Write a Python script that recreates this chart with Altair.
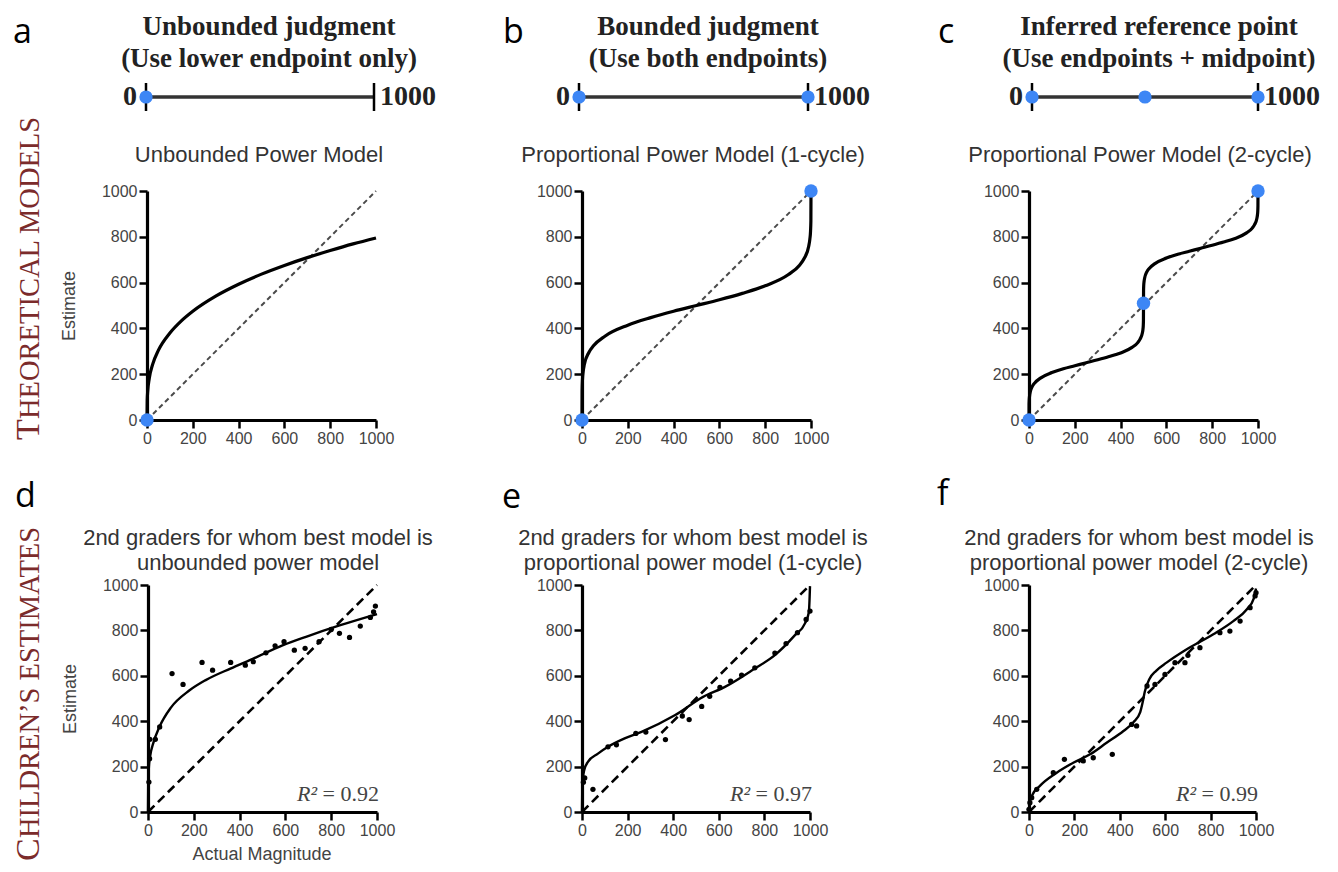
import altair as alt
import pandas as pd

# ======================= DATA =======================
AXIS_TICKS = [0, 200, 400, 600, 800, 1000]
DIAG_X = [0, 1000]
DIAG_Y = [0, 1000]

NL_TICKS = [0, 1000]
NL_LABELS = ["0", "1000"]
NL_DOTS = [[0], [0, 1000], [0, 500, 1000]]

HEADINGS = [["Unbounded judgment", "(Use lower endpoint only)"],
            ["Bounded judgment", "(Use both endpoints)"],
            ["Inferred reference point", "(Use endpoints + midpoint)"]]
LETTERS = ["a", "b", "c", "d", "e", "f"]
THEORY_TITLES = ["Unbounded Power Model",
                 "Proportional Power Model (1-cycle)",
                 "Proportional Power Model (2-cycle)"]
DATA_TITLES = [["2nd graders for whom best model is", "unbounded power model"],
               ["2nd graders for whom best model is", "proportional power model (1-cycle)"],
               ["2nd graders for whom best model is", "proportional power model (2-cycle)"]]
ROW_LABELS = [["T", "HEORETICAL MODELS"], ["C", "HILDREN\u2019S ESTIMATES"]]
R2_VALUES = ["0.92", "0.97", "0.99"]
Y_TITLE = "Estimate"
X_TITLE = "Actual Magnitude"

# Theoretical model curves
A_X = [0, 1, 3, 10, 25, 50, 100, 150, 200, 300, 400, 500, 600, 700, 800, 900, 1000]
A_Y = [0, 87, 124, 182, 244, 305, 380, 433, 475, 541, 593, 637, 675, 709, 740, 769, 795]

B_X = [0, 0.5, 2, 5, 10, 30, 50, 100, 200, 300, 400, 500, 600, 700, 800, 900, 950, 970, 990, 995, 998, 999.5, 1000]
B_Y = [0, 130, 175, 210, 241, 295, 324, 366, 414, 447, 475, 500, 525, 553, 586, 634, 676, 705, 759, 790, 825, 870, 1000]

C_X = [0, 0.25, 1, 2.5, 5, 15, 25, 50, 100, 150, 200, 250, 300, 350, 400, 450, 475, 485, 495, 497.5, 499, 499.75, 500,
       500.25, 501, 502.5, 505, 515, 525, 550, 600, 650, 700, 750, 800, 850, 900, 950, 975, 985, 995, 997.5, 999, 999.75, 1000]
C_Y = [0, 65, 88, 105, 120, 148, 162, 183, 207, 224, 237, 250, 263, 277, 293, 317, 338, 353, 380, 395, 412, 435, 500,
       565, 588, 605, 620, 648, 662, 683, 707, 724, 737, 750, 763, 777, 793, 817, 838, 853, 880, 895, 912, 935, 1000]

BLUE_A_X = [0]
BLUE_A_Y = [0]
BLUE_B_X = [0, 1000]
BLUE_B_Y = [0, 1000]
BLUE_C_X = [0, 500, 1000]
BLUE_C_Y = [0, 510, 1000]

# Children's estimates: fitted curves
D_X = [0, 1, 4, 10, 22, 50, 100, 180, 250, 360, 460, 590, 690, 840, 1000]
D_Y = [0, 130, 200, 250, 300, 375, 460, 535, 580, 632, 676, 735, 772, 823, 872]

E_X = [0, 1, 3, 10, 26, 70, 114, 187, 261, 407, 531, 627, 758, 846, 934, 978, 995, 1000]
E_Y = [0, 90, 140, 185, 221, 257, 287, 324, 353, 426, 507, 551, 632, 691, 779, 831, 880, 995]

F_X = [0, 3, 12, 48, 122, 195, 269, 342, 416, 460, 490, 500, 510, 530, 560, 606, 695, 812, 900, 960, 990, 1000]
F_Y = [0, 40, 70, 115, 173, 217, 254, 305, 357, 395, 440, 480, 530, 585, 622, 658, 717, 783, 841, 893, 940, 985]

# Children's estimates: median estimates (dots)
DD_X = [4, 7, 8, 32, 51, 105, 153, 236, 282, 361, 425, 460, 515, 555, 594, 639, 686, 747, 800, 836, 880, 927, 971, 985, 993]
DD_Y = [132, 235, 320, 320, 375, 610, 562, 659, 625, 659, 647, 662, 701, 732, 750, 713, 721, 750, 804, 787, 769, 819, 857, 882, 907]

ED_X = [6, 12, 48, 114, 151, 236, 280, 366, 440, 470, 525, 560, 605, 652, 700, 758, 846, 895, 945, 983, 1000]
ED_Y = [131, 150, 100, 287, 296, 346, 352, 319, 423, 407, 465, 510, 549, 576, 603, 635, 700, 742, 790, 848, 885]

FD_X = [0, 4, 12, 34, 107, 156, 239, 283, 367, 452, 474, 520, 555, 599, 643, 687, 700, 753, 841, 885, 930, 974, 996, 1000]
FD_Y = [12, 41, 63, 100, 173, 232, 225, 239, 254, 386, 379, 555, 562, 606, 658, 658, 690, 724, 790, 797, 841, 900, 952, 966]

# ======================= LAYOUT / STYLE =======================
W, H = 1320, 856
BLUE = "#3d86f5"
MAROON = "#7b2b2b"

NL_XR = [[138, 366], [571, 800], [1024, 1250]]
NL_YR = [103, 75]
TH_XR = [[139, 368], [574, 803], [1021, 1250]]
TH_YR = [412, 183]
DA_XR = [[140, 369], [574, 802], [1021, 1248]]
DA_YR = [804, 577]


def axis_x(yr):
    return alt.Axis(orient="bottom", offset=yr[0] - H, values=AXIS_TICKS, format="d", grid=False,
                    domainColor="black", domainWidth=3.2, tickColor="black", tickWidth=2.5, tickSize=8,
                    labelFont="Liberation Sans", labelFontSize=16, labelColor="#444", labelPadding=2,
                    labelFlush=False, labelOverlap=False, title=None)


def axis_y(xr, title):
    kw = dict(orient="left", offset=-xr[0], values=AXIS_TICKS, format="d", grid=False,
              domainColor="black", domainWidth=3.2, tickColor="black", tickWidth=2.5, tickSize=8,
              labelFont="Liberation Sans", labelFontSize=16, labelColor="#444", labelPadding=2,
              labelFlush=False, labelOverlap=False)
    if title:
        kw.update(title=title, titleFont="Liberation Sans", titleFontSize=18, titleFontWeight="normal",
                  titleColor="#444", titlePadding=23)
    else:
        kw.update(title=None)
    return alt.Axis(**kw)


def txt(text, x, y, size, font="Liberation Sans", color="#333", weight="normal", align="center",
        angle=0, style="normal", baseline="alphabetic"):
    kw = dict(align=align, baseline=baseline, font=font, fontSize=size, color=color,
              fontWeight=weight, fontStyle=style)
    if angle:
        kw["angle"] = angle
    return alt.Chart(pd.DataFrame({"t": [text]})).mark_text(**kw).encode(
        x=alt.value(x), y=alt.value(y), text="t:N")


def numberline(xr, dots):
    sx = alt.Scale(domain=[0, 1000], range=xr, nice=False)
    sy = alt.Scale(domain=[0, 1], range=NL_YR, nice=False)

    def X():
        return alt.X("x:Q", scale=sx, axis=None)

    def Yd(v):
        return alt.YDatum(v, type="quantitative", scale=sy, axis=None)

    base = pd.DataFrame({"x": NL_TICKS})
    line = alt.Chart(base).mark_line(color="#333", strokeWidth=3.5).encode(x=X(), y=Yd(0.5))
    ticks = alt.Chart(base).mark_rule(color="black", strokeWidth=2.5).encode(
        x=X(), y=Yd(0), y2=alt.Y2Datum(1))
    dd = alt.Chart(pd.DataFrame({"x": dots})).mark_circle(color=BLUE, size=175, opacity=1).encode(
        x=X(), y=Yd(0.5))
    font = dict(font="Liberation Serif", fontSize=28, fontWeight="bold", color="#222", baseline="middle")
    l0 = alt.Chart(pd.DataFrame({"x": [NL_TICKS[0]], "t": [NL_LABELS[0]]})).mark_text(
        align="right", dx=-9, **font).encode(x=X(), y=Yd(0.5), text="t:N")
    l1 = alt.Chart(pd.DataFrame({"x": [NL_TICKS[1]], "t": [NL_LABELS[1]]})).mark_text(
        align="left", dx=6, **font).encode(x=X(), y=Yd(0.5), text="t:N")
    return alt.layer(line, ticks, dd, l0, l1)


def panel(xr, yr, cx, cy, theory, ytitle=None, dots=None, blue=None, r2=None):
    sx = alt.Scale(domain=[0, 1000], range=xr, nice=False)
    sy = alt.Scale(domain=[0, 1000], range=yr, nice=False)
    ax_x = axis_x(yr)
    ax_y = axis_y(xr, ytitle)

    def X():
        return alt.X("x:Q", scale=sx, axis=ax_x)

    def Y():
        return alt.Y("y:Q", scale=sy, axis=ax_y)

    if theory:
        dstyle = dict(color="#4a4a4a", strokeWidth=2, strokeDash=[5, 3.5])
        cw = 3.2
    else:
        dstyle = dict(color="black", strokeWidth=2.6, strokeDash=[9, 5])
        cw = 2.4
    diag = alt.Chart(pd.DataFrame({"x": DIAG_X, "y": DIAG_Y})).mark_line(**dstyle).encode(x=X(), y=Y())
    curve = alt.Chart(pd.DataFrame({"x": cx, "y": cy})).mark_line(
        color="black", strokeWidth=cw, interpolate="monotone").encode(x=X(), y=Y())
    layers = [diag, curve]
    if dots is not None:
        layers.append(alt.Chart(pd.DataFrame({"x": dots[0], "y": dots[1]})).mark_circle(
            color="black", size=28, opacity=1).encode(x=X(), y=Y()))
    if blue is not None:
        layers.append(alt.Chart(pd.DataFrame({"x": blue[0], "y": blue[1]})).mark_circle(
            color=BLUE, size=180, opacity=1).encode(x=X(), y=Y()))
    if r2 is not None:
        xd = alt.XDatum(1000, type="quantitative", scale=sx, axis=ax_x)
        yd = alt.YDatum(48, type="quantitative", scale=sy, axis=ax_y)
        layers.append(alt.Chart(pd.DataFrame({"t": ["R\u00b2"]})).mark_text(
            align="right", baseline="alphabetic", font="Liberation Serif", fontSize=22,
            fontStyle="italic", color="#444", dx=-60).encode(x=xd, y=yd, text="t:N"))
        layers.append(alt.Chart(pd.DataFrame({"t": ["= " + r2]})).mark_text(
            align="right", baseline="alphabetic", font="Liberation Serif", fontSize=22,
            color="#444", dx=2).encode(x=xd, y=yd, text="t:N"))
    return alt.layer(*layers)


layers = []
for i in range(3):
    layers.append(numberline(NL_XR[i], NL_DOTS[i]))

layers.append(panel(TH_XR[0], TH_YR, A_X, A_Y, True, ytitle=Y_TITLE, blue=(BLUE_A_X, BLUE_A_Y)))
layers.append(panel(TH_XR[1], TH_YR, B_X, B_Y, True, blue=(BLUE_B_X, BLUE_B_Y)))
layers.append(panel(TH_XR[2], TH_YR, C_X, C_Y, True, blue=(BLUE_C_X, BLUE_C_Y)))
layers.append(panel(DA_XR[0], DA_YR, D_X, D_Y, False, ytitle=Y_TITLE, dots=(DD_X, DD_Y), r2=R2_VALUES[0]))
layers.append(panel(DA_XR[1], DA_YR, E_X, E_Y, False, dots=(ED_X, ED_Y), r2=R2_VALUES[1]))
layers.append(panel(DA_XR[2], DA_YR, F_X, F_Y, False, dots=(FD_X, FD_Y), r2=R2_VALUES[2]))

# headings above number lines
HEAD_X = [261, 700, 1151]
for i in range(3):
    layers.append(txt(HEADINGS[i][0], HEAD_X[i], 27, 27, font="Liberation Serif", color="#222", weight="bold"))
    layers.append(txt(HEADINGS[i][1], HEAD_X[i], 59, 27, font="Liberation Serif", color="#222", weight="bold"))

# panel letters
LET_POS = [(5, 35), (495, 35), (930, 35), (7, 499), (494, 500), (929, 497)]
for l, (px, py) in zip(LETTERS, LET_POS):
    layers.append(txt(l, px, py, 34, font="Open Sans", color="black", align="left"))

# theory titles
TT_X = [251, 685, 1132]
for i in range(3):
    layers.append(txt(THEORY_TITLES[i], TT_X[i], 154, 22, color="#333"))

# data titles
DT_X = [250, 685, 1131]
for i in range(3):
    layers.append(txt(DATA_TITLES[i][0], DT_X[i], 537, 22, color="#333"))
    layers.append(txt(DATA_TITLES[i][1], DT_X[i], 562, 22, color="#333"))

# x-axis title of panel d
layers.append(txt(X_TITLE, 254, 852, 18, color="#444"))

# row labels (small caps imitation)
RX = 31
layers.append(txt(ROW_LABELS[0][0], RX, 432, 34, font="Liberation Serif", color=MAROON, align="left", angle=270))
layers.append(txt(ROW_LABELS[0][1], RX, 411, 28.5, font="Liberation Serif", color=MAROON, align="left", angle=270))
layers.append(txt(ROW_LABELS[1][0], RX, 853, 34, font="Liberation Serif", color=MAROON, align="left", angle=270))
layers.append(txt(ROW_LABELS[1][1], RX, 830, 28.5, font="Liberation Serif", color=MAROON, align="left", angle=270))

chart = alt.layer(*layers).resolve_scale(x="independent", y="independent").properties(
    width=W, height=H, autosize=alt.AutoSizeParams(type="none"), padding=0
).configure_view(stroke=None)

chart.save("out.html", embed_options={"renderer": "svg", "actions": False})
